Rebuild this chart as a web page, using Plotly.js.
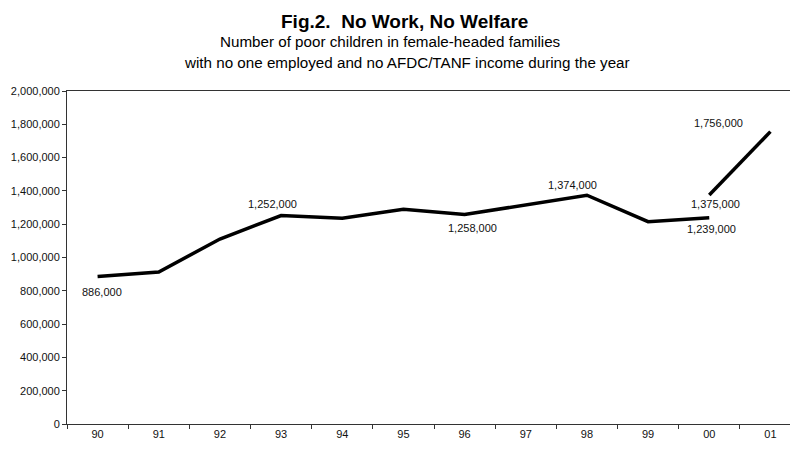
<!DOCTYPE html>
<html>
<head>
<meta charset="utf-8">
<script src="https://cdn.plot.ly/plotly-3.0.1.min.js"></script>
<style>html,body{margin:0;padding:0;background:#fff;}#chart{width:790px;height:451px;}</style>
</head>
<body>
<div id="chart"></div>
<script>
// Data
var years = ["90","91","92","93","94","95","96","97","98","99","00","01"];
var seriesA = [886000, 913000, 1111000, 1252000, 1236000, 1290000, 1258000, 1315000, 1374000, 1215000, 1239000, null];
var seriesB = [null, null, null, null, null, null, null, null, null, null, 1375000, 1756000];
var labelYears = ["90", "93", "96", "98", "00", "00", "01"];
var labelValues = [886000, 1252000, 1258000, 1374000, 1239000, 1375000, 1756000];
var yTickVals = [0, 200000, 400000, 600000, 800000, 1000000, 1200000, 1400000, 1600000, 1800000, 2000000];

var titleText = "<b>Fig.2.  No Work, No Welfare</b>";
var subtitle1 = "Number of poor children in female-headed families";
var subtitle2 = "with no one employed and no AFDC/TANF income during the year";

// label offsets (pixels)
var shifts = [[4,-16],[-9,12],[8,-13],[-14,10],[2,-11],[6,-9],[-52,9]];

var font = "Liberation Sans, Arial, Helvetica, sans-serif";

var traces = [
  {x: years, y: seriesA, type: "scatter", mode: "lines", connectgaps: false,
   line: {color: "#000", width: 3.5}, hoverinfo: "skip"},
  {x: years, y: seriesB, type: "scatter", mode: "lines", connectgaps: false,
   line: {color: "#000", width: 3.5}, hoverinfo: "skip"}
];

var annotations = labelYears.map(function(c, i){
  return {x: years.indexOf(c), y: labelValues[i], xref: "x", yref: "y", text: labelValues[i].toLocaleString("en-US"),
    showarrow: false, xanchor: "center", yanchor: "middle", xshift: shifts[i][0], yshift: shifts[i][1],
    font: {family: font, size: 11, color: "#111"}};
});

function px(x){ return (x - 67) / 723; }
function py(y){ return 1 + (91 - y) / 333; }
annotations.push({xref: "paper", yref: "paper", x: px(404), y: py(22), text: titleText, showarrow: false,
  xanchor: "center", yanchor: "middle", font: {family: font, size: 19, color: "#000"}});
annotations.push({xref: "paper", yref: "paper", x: px(390), y: py(41), text: subtitle1, showarrow: false,
  xanchor: "center", yanchor: "middle", font: {family: font, size: 15.2, color: "#000"}});
annotations.push({xref: "paper", yref: "paper", x: px(407), y: py(62), text: subtitle2, showarrow: false,
  xanchor: "center", yanchor: "middle", font: {family: font, size: 15.2, color: "#000"}});

var layout = {
  width: 790, height: 451,
  margin: {l: 67, r: 0, t: 91, b: 27, pad: 0},
  paper_bgcolor: "#fff", plot_bgcolor: "#fff",
  showlegend: false,
  font: {family: font, color: "#111"},
  xaxis: {type: "category", categoryarray: years, categoryorder: "array", range: [-0.5, 11.32],
    showgrid: false, zeroline: false, showline: true, mirror: true, linecolor: "#333", linewidth: 1,
    ticks: "outside", tickson: "boundaries", ticklen: 4, tickcolor: "#333",
    tickfont: {family: font, size: 11, color: "#111"}, fixedrange: true},
  yaxis: {range: [0, 2000000], tickvals: yTickVals, tickformat: ",d",
    showgrid: false, zeroline: false, showline: true, linecolor: "#333", linewidth: 1,
    ticks: "outside", ticklen: 4, tickcolor: "#333",
    tickfont: {family: font, size: 11, color: "#111"}, fixedrange: true},
  annotations: annotations
};

Plotly.newPlot("chart", traces, layout, {displayModeBar: false, staticPlot: true});
</script>
</body>
</html>
